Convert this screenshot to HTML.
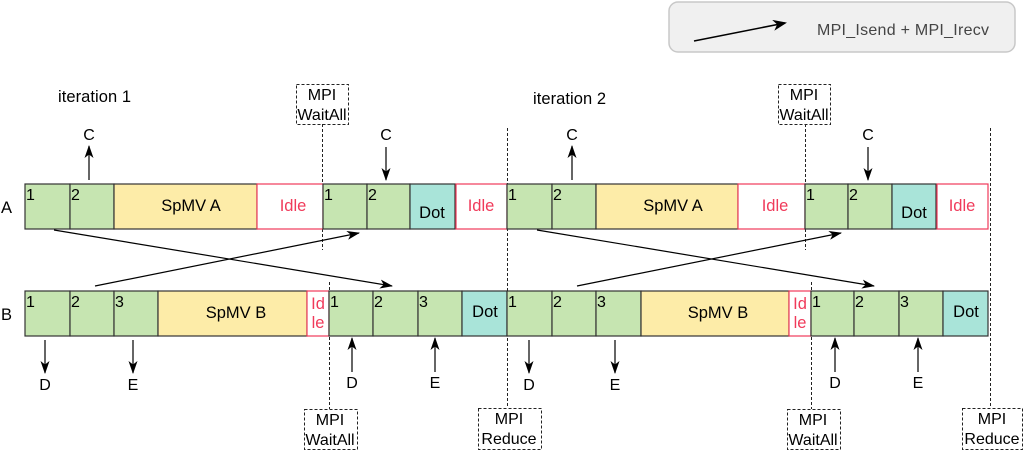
<!DOCTYPE html>
<html><head><meta charset="utf-8"><style>
html,body{margin:0;padding:0;background:#fff;}
svg{display:block;font-family:"Liberation Sans",sans-serif;}
</style></head><body>
<svg width="1024" height="451" viewBox="0 0 1024 451" xmlns="http://www.w3.org/2000/svg">
<defs>
<marker id="ah" markerWidth="13" markerHeight="9" refX="12" refY="4.5" orient="auto" markerUnits="userSpaceOnUse">
<path d="M0,0 L13,4.5 L0,9 L3.5,4.5 Z" fill="#000"/></marker>
<marker id="ah2" markerWidth="14" markerHeight="11" refX="12" refY="5.5" orient="auto" markerUnits="userSpaceOnUse">
<path d="M0,0 L14,5.5 L0,11 L4,5.5 Z" fill="#000"/></marker>
</defs>
<rect x="669" y="2" width="346" height="50" rx="9" fill="#f0f0f0" stroke="#c8c8c8" stroke-width="1.5"/>
<line x1="694" y1="41" x2="785" y2="23" stroke="#000" stroke-width="1.5" marker-end="url(#ah2)"/>
<text x="817" y="35" font-size="16" fill="#444" textLength="172">MPI_Isend + MPI_Irecv</text>

<text x="58" y="102" font-size="16.5" textLength="73">iteration 1</text>
<text x="533" y="104" font-size="16.5" textLength="73">iteration 2</text>

<g stroke="#222" stroke-width="1" stroke-dasharray="3,2" fill="none">
<line x1="322.5" y1="124" x2="322.5" y2="250"/>
<line x1="805.5" y1="124" x2="805.5" y2="250"/>
<line x1="329.5" y1="282" x2="329.5" y2="409"/>
<line x1="811.5" y1="282" x2="811.5" y2="409"/>
<line x1="507.5" y1="128" x2="507.5" y2="408"/>
<line x1="990.5" y1="128" x2="990.5" y2="408"/>
<rect x="296.5" y="84.5" width="52" height="40"/>
<rect x="778.5" y="84.5" width="52" height="40"/>
<rect x="304.5" y="409.5" width="53" height="40"/>
<rect x="478.5" y="408.5" width="63" height="41"/>
<rect x="787.5" y="409.5" width="53" height="40"/>
<rect x="962.5" y="408.5" width="60" height="41"/>
</g>
<g font-size="16" text-anchor="middle">
<text x="322" y="100">MPI</text><text x="322" y="120">WaitAll</text>
<text x="804" y="100">MPI</text><text x="804" y="120">WaitAll</text>
<text x="330" y="425">MPI</text><text x="330" y="445">WaitAll</text>
<text x="509" y="424">MPI</text><text x="509" y="444">Reduce</text>
<text x="813" y="425">MPI</text><text x="813" y="445">WaitAll</text>
<text x="992" y="424">MPI</text><text x="992" y="444">Reduce</text>
</g>

<text x="1" y="213" font-size="16.5">A</text>
<text x="1" y="320" font-size="16.5">B</text>

<g stroke="#333" stroke-width="1.2">
<rect x="25" y="184" width="45" height="45" fill="#c6e5b1"/>
<rect x="70" y="184" width="44" height="45" fill="#c6e5b1"/>
<rect x="114" y="184" width="143" height="45" fill="#fdeca8"/>
<rect x="257" y="184" width="66" height="45" fill="#fff" stroke="#f03a5a"/>
<rect x="323" y="184" width="44" height="45" fill="#c6e5b1"/>
<rect x="367" y="184" width="43" height="45" fill="#c6e5b1"/>
<rect x="410" y="184" width="45" height="45" fill="#a9e4d9"/>
<rect x="456" y="184" width="51" height="45" fill="#fff" stroke="#f03a5a"/>
<rect x="507" y="184" width="45" height="45" fill="#c6e5b1"/>
<rect x="552" y="184" width="44" height="45" fill="#c6e5b1"/>
<rect x="596" y="184" width="142" height="45" fill="#fdeca8"/>
<rect x="738" y="184" width="67" height="45" fill="#fff" stroke="#f03a5a"/>
<rect x="805" y="184" width="43" height="45" fill="#c6e5b1"/>
<rect x="848" y="184" width="44" height="45" fill="#c6e5b1"/>
<rect x="892" y="184" width="44" height="45" fill="#a9e4d9"/>
<rect x="937" y="184" width="51" height="45" fill="#fff" stroke="#f03a5a"/>
<rect x="25" y="291" width="45" height="45" fill="#c6e5b1"/>
<rect x="70" y="291" width="44" height="45" fill="#c6e5b1"/>
<rect x="114" y="291" width="44" height="45" fill="#c6e5b1"/>
<rect x="158" y="291" width="149" height="45" fill="#fdeca8"/>
<rect x="307" y="291" width="22" height="45" fill="#fff" stroke="#f03a5a"/>
<rect x="329" y="291" width="44" height="45" fill="#c6e5b1"/>
<rect x="373" y="291" width="45" height="45" fill="#c6e5b1"/>
<rect x="418" y="291" width="44" height="45" fill="#c6e5b1"/>
<rect x="462" y="291" width="45" height="45" fill="#a9e4d9"/>
<rect x="507" y="291" width="45" height="45" fill="#c6e5b1"/>
<rect x="552" y="291" width="44" height="45" fill="#c6e5b1"/>
<rect x="596" y="291" width="45" height="45" fill="#c6e5b1"/>
<rect x="641" y="291" width="148" height="45" fill="#fdeca8"/>
<rect x="789" y="291" width="22" height="45" fill="#fff" stroke="#f03a5a"/>
<rect x="811" y="291" width="43" height="45" fill="#c6e5b1"/>
<rect x="854" y="291" width="45" height="45" fill="#c6e5b1"/>
<rect x="899" y="291" width="44" height="45" fill="#c6e5b1"/>
<rect x="943" y="291" width="45" height="45" fill="#a9e4d9"/>
</g>

<g font-size="16">
<text x="26" y="200">1</text><text x="71" y="200">2</text>
<text x="324" y="200">1</text><text x="368" y="200">2</text>
<text x="508" y="200">1</text><text x="553" y="200">2</text>
<text x="806" y="200">1</text><text x="849" y="200">2</text>
<text x="26" y="307">1</text><text x="71" y="307">2</text><text x="115" y="307">3</text>
<text x="330" y="307">1</text><text x="374" y="307">2</text><text x="419" y="307">3</text>
<text x="508" y="307">1</text><text x="553" y="307">2</text><text x="597" y="307">3</text>
<text x="812" y="307">1</text><text x="855" y="307">2</text><text x="900" y="307">3</text>
</g>
<g font-size="16.5" text-anchor="middle">
<text x="191" y="211">SpMV A</text>
<text x="673" y="211">SpMV A</text>
<text x="236" y="318">SpMV B</text>
<text x="718" y="318">SpMV B</text>
<text x="432" y="218">Dot</text>
<text x="914" y="218">Dot</text>
<text x="485" y="317">Dot</text>
<text x="966" y="317">Dot</text>
</g>
<g font-size="16.5" text-anchor="middle" fill="#f03a5a">
<text x="293" y="211">Idle</text>
<text x="481" y="211">Idle</text>
<text x="775" y="211">Idle</text>
<text x="962" y="211">Idle</text>
<text x="318" y="309">Id</text><text x="318" y="328">le</text>
<text x="800" y="309">Id</text><text x="800" y="328">le</text>
</g>

<g stroke="#000" stroke-width="1.2" fill="none">
<line x1="54" y1="230" x2="392" y2="286" marker-end="url(#ah)"/>
<line x1="95" y1="286" x2="359" y2="233" marker-end="url(#ah)"/>
<line x1="537" y1="230" x2="874" y2="286" marker-end="url(#ah)"/>
<line x1="577" y1="286" x2="841" y2="233" marker-end="url(#ah)"/>
<line x1="89" y1="180" x2="89" y2="146" marker-end="url(#ah)"/>
<line x1="572" y1="180" x2="572" y2="146" marker-end="url(#ah)"/>
<line x1="386" y1="147" x2="386" y2="180" marker-end="url(#ah)"/>
<line x1="868" y1="147" x2="868" y2="180" marker-end="url(#ah)"/>
<line x1="45" y1="340" x2="45" y2="373" marker-end="url(#ah)"/>
<line x1="133" y1="340" x2="133" y2="373" marker-end="url(#ah)"/>
<line x1="529" y1="340" x2="529" y2="373" marker-end="url(#ah)"/>
<line x1="615" y1="340" x2="615" y2="373" marker-end="url(#ah)"/>
<line x1="352" y1="372" x2="352" y2="338" marker-end="url(#ah)"/>
<line x1="435" y1="372" x2="435" y2="338" marker-end="url(#ah)"/>
<line x1="835" y1="372" x2="835" y2="338" marker-end="url(#ah)"/>
<line x1="918" y1="372" x2="918" y2="338" marker-end="url(#ah)"/>
</g>
<g font-size="16" text-anchor="middle">
<text x="89" y="140">C</text><text x="572" y="140">C</text>
<text x="386" y="140">C</text><text x="868" y="140">C</text>
<text x="45" y="390">D</text><text x="133" y="390">E</text>
<text x="529" y="390">D</text><text x="615" y="390">E</text>
<text x="352" y="388">D</text><text x="435" y="388">E</text>
<text x="835" y="388">D</text><text x="918" y="388">E</text>
</g>
</svg>
</body></html>
